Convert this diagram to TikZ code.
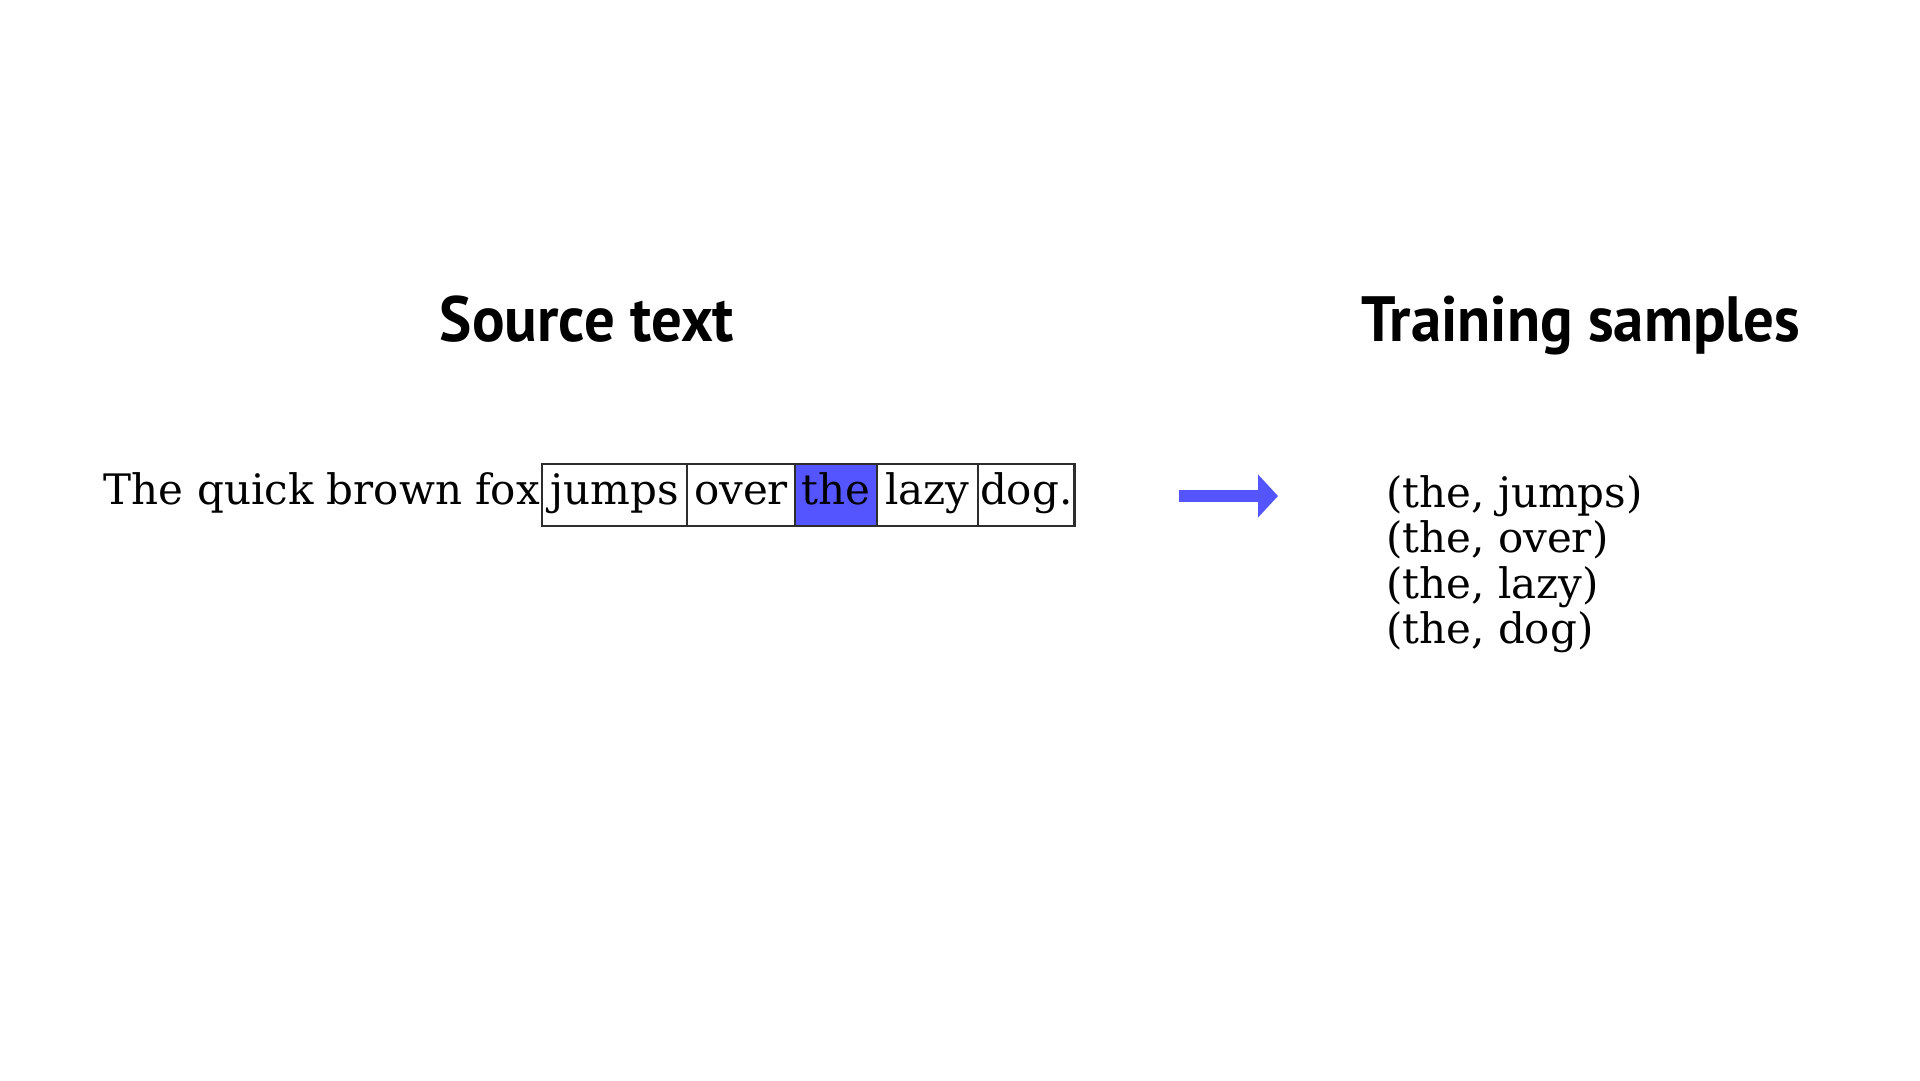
\documentclass[tikz,border=0pt]{standalone}
\usepackage{fontspec}
\usetikzlibrary{arrows.meta, positioning}
\setmainfont{DejaVu Serif}
\newfontfamily\headfont{PT Sans}[FakeStretch=0.95]
\definecolor{wordBlue}{HTML}{5555FF}
\definecolor{boxLine}{HTML}{2D2D2D}

\begin{document}
\begin{tikzpicture}[x=1pt, y=-1pt,
    title/.style={font=\headfont\bfseries\fontsize{64}{72}\selectfont,
                  anchor=base, inner sep=0pt},
    word/.style={font=\fontsize{42}{48}\selectfont, text height=40pt,
                 text depth=22pt, inner ysep=0pt, inner xsep=2pt, outer sep=0pt},
    wordbox/.style={word, draw=boxLine, line width=2.5pt},
    sample/.style={font=\fontsize{42}{48}\selectfont, anchor=base west, inner sep=0pt},
  ]
    \useasboundingbox (0,0) rectangle (1920,1080);

    \node[title] (hsrc) at (587,341) {Source text};
    \node[title] (hsmp) at (1581,341) {Training samples};

    \node[wordbox, minimum width=145pt, anchor=west]         (w1) at (542,495) {jumps};
    \node[wordbox, minimum width=108pt, right=0pt of w1]      (w2) {over};
    \node[wordbox, minimum width=82pt, fill=wordBlue, right=0pt of w2] (w3) {the};
    \node[wordbox, minimum width=101pt, right=0pt of w3]      (w4) {lazy};
    \node[wordbox, minimum width=93pt, right=0pt of w4]       (w5) {dog.};
    \node[word, left=0pt of w1]                               (pre) {The quick brown fox};

    \coordinate (a1) at (1179,496);
    \coordinate (a2) at (1278,496);
    \draw[-{Triangle[length=20pt, width=42pt]}, line width=12pt, wordBlue] (a1) -- (a2);

    \node[sample] (s1) at (1386,507)   {(the, jumps)};
    \node[sample] (s2) at (1386,552.5) {(the, over)};
    \node[sample] (s3) at (1386,598)   {(the, lazy)};
    \node[sample] (s4) at (1386,643.5) {(the, dog)};
  \end{tikzpicture}
\end{document}
